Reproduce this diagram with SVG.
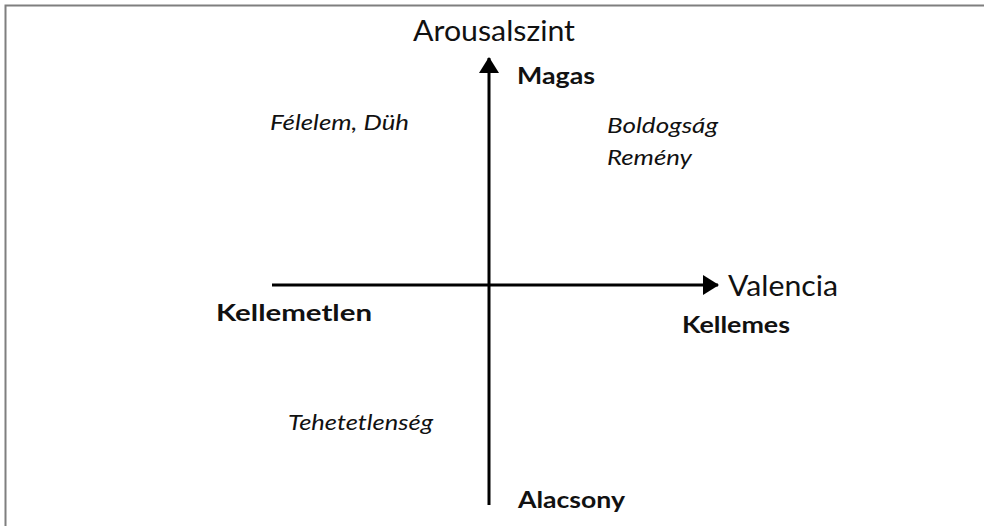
<svg xmlns="http://www.w3.org/2000/svg" width="984" height="526" viewBox="0 0 984 526">
  <style>
    .frame { stroke: #7f7f7f; stroke-width: 2; fill: none; }
    .axis { stroke: #000; stroke-width: 3; fill: none; }
    .title { font-family: Lato, "Open Sans", "Liberation Sans", sans-serif; font-size: 29px; fill: #111; }
    .pole { font-family: Lato, "Open Sans", "Liberation Sans", sans-serif; font-size: 23px; font-weight: bold; fill: #111; }
    .emo { font-family: Lato, "Open Sans", "Liberation Sans", sans-serif; font-size: 22px; font-style: italic; fill: #111; }
  </style>
  <defs>
    <marker id="head" viewBox="0 0 16 22" refX="15" refY="11" markerWidth="16" markerHeight="22" orient="auto" markerUnits="userSpaceOnUse">
      <path d="M0,1 L16,11 L0,21 Z" fill="#000"/>
    </marker>
  </defs>
  <rect width="984" height="526" fill="#fff"/>
  <!-- page frame: top and left edges -->
  <path class="frame" d="M5.5,526 V5.5 H984"/>

  <g id="axes">
    <line class="axis" x1="272" y1="285" x2="718" y2="285" marker-end="url(#head)"/>
    <line class="axis" x1="489" y1="505" x2="489" y2="58" marker-end="url(#head)"/>
  </g>

  <g id="labels-axes">
    <text class="title" x="413" y="41" textLength="162" lengthAdjust="spacingAndGlyphs">Arousalszint</text>
    <text class="title" x="728" y="296" textLength="110" lengthAdjust="spacingAndGlyphs">Valencia</text>
  </g>

  <g id="labels-poles">
    <text class="pole" x="517" y="84" textLength="78" lengthAdjust="spacingAndGlyphs">Magas</text>
    <text class="pole" x="518" y="508" textLength="107" lengthAdjust="spacingAndGlyphs">Alacsony</text>
    <text class="pole" x="216" y="321" textLength="156" lengthAdjust="spacingAndGlyphs">Kellemetlen</text>
    <text class="pole" x="682" y="333" textLength="108" lengthAdjust="spacingAndGlyphs">Kellemes</text>
  </g>

  <g id="labels-emotions">
    <text class="emo" x="270" y="130" textLength="139" lengthAdjust="spacingAndGlyphs">Félelem, Düh</text>
    <text class="emo" x="607" y="133" textLength="111" lengthAdjust="spacingAndGlyphs">Boldogság</text>
    <text class="emo" x="607" y="165" textLength="85" lengthAdjust="spacingAndGlyphs">Remény</text>
    <text class="emo" x="288" y="430" textLength="145" lengthAdjust="spacingAndGlyphs">Tehetetlenség</text>
  </g>
</svg>
